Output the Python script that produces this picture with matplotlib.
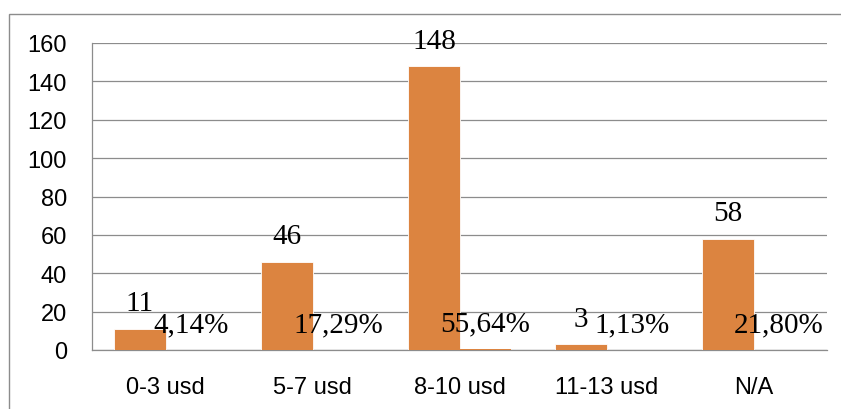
import matplotlib
matplotlib.use('Agg')
import matplotlib.pyplot as plt
import matplotlib.patheffects as pe
from matplotlib.patches import Rectangle

categories = ['0-3 usd', '5-7 usd', '8-10 usd', '11-13 usd', 'N/A']
counts = [11, 46, 148, 3, 58]
shares = [4.14, 17.29, 55.64, 1.13, 21.80]   # percent of respondents

W, H = 841, 410
fig = plt.figure(figsize=(W / 100, H / 100), dpi=100)
ax = fig.add_axes([92 / W, (H - 351) / H, (827 - 92) / W, (351 - 44) / H])

# outer chart frame (only top and left edges fall inside the image)
fig.patches.append(Rectangle((9 / W, -0.1), 1.2, (H - 15) / H + 0.1,
                             transform=fig.transFigure, fill=False,
                             edgecolor='#8c8c8c', lw=1.0))

orange = '#dc8440'
bw = 0.347
x = list(range(len(categories)))
x_cnt = [i - bw / 2 for i in x]
x_pct = [i + bw / 2 for i in x]

shadow = [pe.SimplePatchShadow(offset=(1.2, -1.2), shadow_rgbFace='#999999', alpha=0.35), pe.Normal()]
bars = ax.bar(x_cnt, counts, width=bw, color=orange, edgecolor='white', lw=0.6, zorder=3)
for b in bars:
    b.set_path_effects(shadow)
ax.bar(x_pct, [s / 100 for s in shares], width=bw, color=orange, lw=0, zorder=3)

serif = dict(family='Liberation Serif', fontsize=21, color='black')
for xi, v in zip(x_cnt, counts):
    ax.annotate(str(v), (xi, v), xytext=(0, 13.3), textcoords='offset points',
                ha='center', va='baseline', zorder=5, **serif)
for xi, s in zip(x_pct, shares):
    ax.annotate(f'{s:.2f}'.replace('.', ',') + '%', (xi, s / 100), xytext=(0, 13.3),
                textcoords='offset points', ha='center', va='baseline', zorder=5, **serif)

ax.set_xlim(-0.5, len(categories) - 0.5)
ax.set_ylim(0, 160)
ax.set_yticks(range(0, 161, 20))
ax.set_xticks(x)
ax.set_xticklabels(categories)
ax.yaxis.grid(True, color='#8c8c8c', lw=0.9)
ax.set_axisbelow(True)
for side in ['top', 'right']:
    ax.spines[side].set_visible(False)
for side in ['left', 'bottom']:
    ax.spines[side].set_color('#8c8c8c')
    ax.spines[side].set_linewidth(0.9)
ax.tick_params(length=0, labelsize=17)
ax.tick_params(axis='y', pad=18)
ax.tick_params(axis='x', pad=19)
for lab in ax.get_xticklabels() + ax.get_yticklabels():
    lab.set_family('Liberation Sans')

fig.savefig('out.png', dpi=100)
